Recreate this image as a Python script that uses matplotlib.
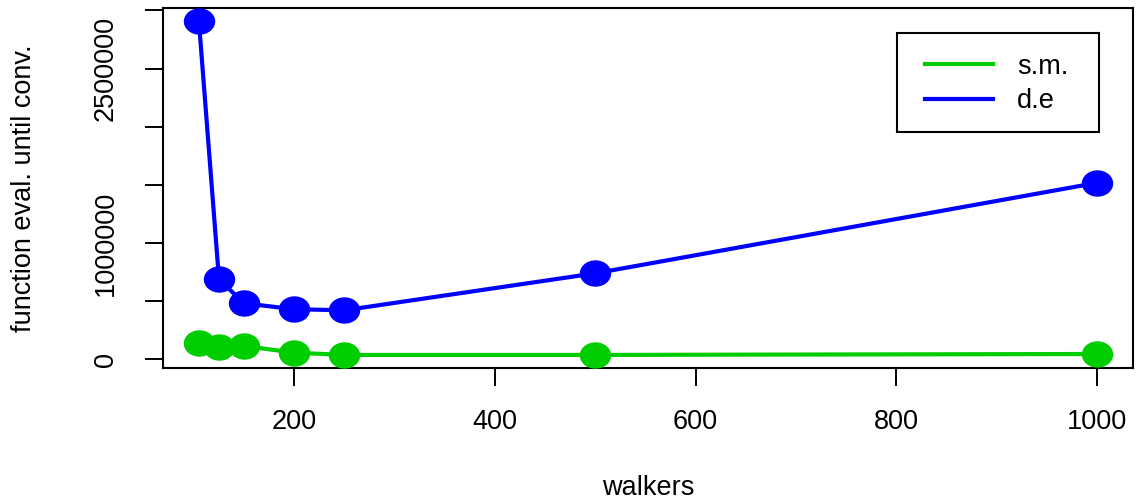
import numpy as np
import matplotlib
matplotlib.use("Agg")
import matplotlib.pyplot as plt
from matplotlib.path import Path
from matplotlib.lines import Line2D
from matplotlib.patches import Rectangle

# ---- data ----
walkers = [105, 125, 150, 200, 250, 500, 1000]
de_evals = [2905000, 687000, 481000, 430000, 421000, 739000, 1517000]
sm_evals = [137000, 108000, 114000, 56000, 37000, 37000, 45000]
series_labels = ["s.m.", "d.e"]
y_ticks = [0, 500000, 1000000, 1500000, 2000000, 2500000, 3000000]
y_ticklabels = ["0", "", "1000000", "", "", "2500000", ""]
x_ticks = [200, 400, 600, 800, 1000]

plt.rcParams['font.family'] = ['Liberation Sans', 'DejaVu Sans']

GREEN = "#00CD00"
BLUE = "#0000FF"
FS = 19.5
W, H = 1141, 501
AX_L, AX_R, AX_T, AX_B = 163, 1133, 8.3, 368.3

def px_to_axes(x, y):
    return ((x - AX_L) / (AX_R - AX_L), (AX_B - y) / (AX_B - AX_T))

# ellipse marker (slightly wider than tall, as in the reference)
circ = Path.unit_circle()
ell = Path(circ.vertices * np.array([1.2, 1.0]), circ.codes)

fig = plt.figure(figsize=(W/100, H/100), dpi=100)
ax = fig.add_axes([AX_L/W, 1 - AX_B/H, (AX_R-AX_L)/W, (AX_B-AX_T)/H])

ax.plot(walkers, sm_evals, color=GREEN, lw=3.0, marker=ell, ms=21.6,
        mec=GREEN, mfc=GREEN, zorder=3)
ax.plot(walkers, de_evals, color=BLUE, lw=3.0, marker=ell, ms=21.6,
        mec=BLUE, mfc=BLUE, zorder=4)

ax.set_xlim(69.2, 1035.8)
ax.set_ylim(-78000, 3018000)

ax.set_xticks(x_ticks)
ax.set_xticklabels([str(v) for v in x_ticks])
ax.set_yticks(y_ticks)
ax.set_yticklabels(y_ticklabels, rotation=90, va='center')

for s in ax.spines.values():
    s.set_linewidth(1.5)
    s.set_color('black')

ax.tick_params(axis='both', direction='out', length=13, width=1.4,
               labelsize=FS, colors='black')
ax.tick_params(axis='x', pad=16)
ax.tick_params(axis='y', pad=19)

ax.set_xlabel("walkers", fontsize=FS, labelpad=29)
ax.set_ylabel("function eval. until conv.", fontsize=FS, labelpad=40)

handles = [Line2D([], [], color=GREEN, lw=3.0), Line2D([], [], color=BLUE, lw=3.0)]
leg = ax.legend(handles, series_labels, loc='upper left',
                bbox_to_anchor=px_to_axes(925, 53.5),
                fontsize=FS, frameon=False,
                handlelength=2.5, handletextpad=0.9, labelspacing=0.33,
                borderpad=0.0, borderaxespad=0.0)

# legend frame
x0, y0 = px_to_axes(897.3, 131.7)
x1, y1 = px_to_axes(1099.3, 32.7)
ax.add_patch(Rectangle((x0, y0), x1 - x0, y1 - y0, transform=ax.transAxes,
                       fill=True, facecolor='white', edgecolor='black',
                       lw=1.5, zorder=5))
leg.set_zorder(6)

fig.savefig("out.png", dpi=100)
